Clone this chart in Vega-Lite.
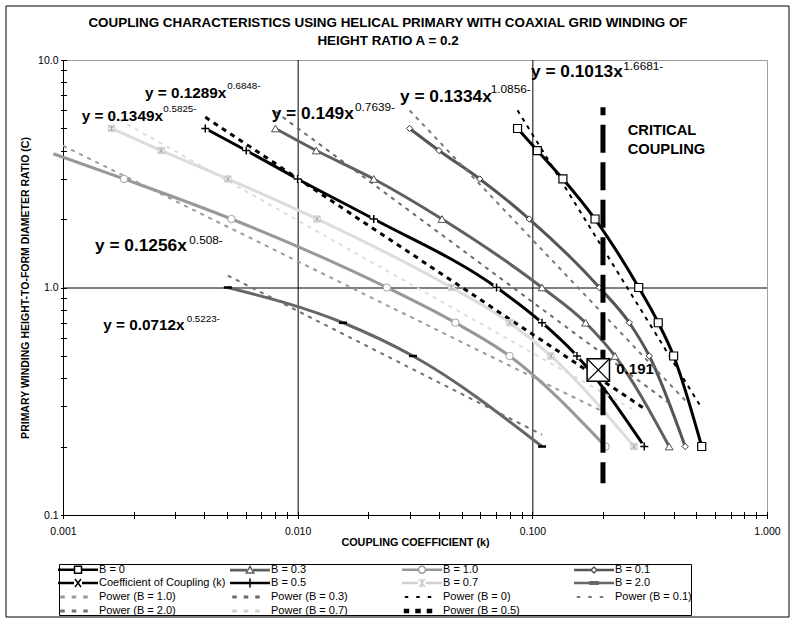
{
  "$schema": "https://vega.github.io/schema/vega-lite/v6.json",
  "width": 704,
  "height": 455,
  "autosize": {"type": "none"},
  "padding": {"left": 63, "top": 60, "right": 28, "bottom": 108},
  "background": "white",
  "title": {
    "text": ["COUPLING CHARACTERISTICS USING HELICAL PRIMARY WITH COAXIAL GRID WINDING OF", "HEIGHT RATIO A = 0.2"],
    "font": "Liberation Sans",
    "fontSize": 13.4,
    "fontWeight": "bold",
    "color": "black",
    "anchor": "middle",
    "frame": "group",
    "dx": -27,
    "offset": -41,
    "lineHeight": 17.5
  },
  "datasets": {
    "curves": [
      {"s": "B = 0", "k": 0.0865, "c": 5}, {"s": "B = 0", "k": 0.105, "c": 4}, {"s": "B = 0", "k": 0.135, "c": 3}, {"s": "B = 0", "k": 0.185, "c": 2},
      {"s": "B = 0", "k": 0.284, "c": 1}, {"s": "B = 0", "k": 0.344, "c": 0.7}, {"s": "B = 0", "k": 0.4, "c": 0.5}, {"s": "B = 0", "k": 0.527, "c": 0.2},
      {"s": "B = 0.1", "k": 0.03, "c": 5}, {"s": "B = 0.1", "k": 0.04, "c": 4}, {"s": "B = 0.1", "k": 0.0597, "c": 3}, {"s": "B = 0.1", "k": 0.097, "c": 2},
      {"s": "B = 0.1", "k": 0.193, "c": 1}, {"s": "B = 0.1", "k": 0.259, "c": 0.7}, {"s": "B = 0.1", "k": 0.315, "c": 0.5}, {"s": "B = 0.1", "k": 0.448, "c": 0.2},
      {"s": "B = 0.3", "k": 0.00804, "c": 5}, {"s": "B = 0.3", "k": 0.012, "c": 4}, {"s": "B = 0.3", "k": 0.0211, "c": 3}, {"s": "B = 0.3", "k": 0.0412, "c": 2},
      {"s": "B = 0.3", "k": 0.11, "c": 1}, {"s": "B = 0.3", "k": 0.1686, "c": 0.7}, {"s": "B = 0.3", "k": 0.225, "c": 0.5}, {"s": "B = 0.3", "k": 0.383, "c": 0.2},
      {"s": "B = 0.5", "k": 0.00404, "c": 5}, {"s": "B = 0.5", "k": 0.00604, "c": 4}, {"s": "B = 0.5", "k": 0.01, "c": 3}, {"s": "B = 0.5", "k": 0.0211, "c": 2},
      {"s": "B = 0.5", "k": 0.0704, "c": 1}, {"s": "B = 0.5", "k": 0.11, "c": 0.7}, {"s": "B = 0.5", "k": 0.155, "c": 0.5}, {"s": "B = 0.5", "k": 0.3, "c": 0.2},
      {"s": "B = 0.7", "k": 0.00161, "c": 5}, {"s": "B = 0.7", "k": 0.00262, "c": 4}, {"s": "B = 0.7", "k": 0.00504, "c": 3}, {"s": "B = 0.7", "k": 0.0121, "c": 2},
      {"s": "B = 0.7", "k": 0.0452, "c": 1}, {"s": "B = 0.7", "k": 0.0802, "c": 0.7}, {"s": "B = 0.7", "k": 0.12, "c": 0.5}, {"s": "B = 0.7", "k": 0.271, "c": 0.2},
      {"s": "B = 1.0", "k": 0.00091, "c": 3.87}, {"s": "B = 1.0", "k": 0.00182, "c": 3}, {"s": "B = 1.0", "k": 0.00522, "c": 2}, {"s": "B = 1.0", "k": 0.024, "c": 1},
      {"s": "B = 1.0", "k": 0.047, "c": 0.7}, {"s": "B = 1.0", "k": 0.08, "c": 0.5}, {"s": "B = 1.0", "k": 0.205, "c": 0.2},
      {"s": "B = 2.0", "k": 0.00504, "c": 1}, {"s": "B = 2.0", "k": 0.0156, "c": 0.7}, {"s": "B = 2.0", "k": 0.031, "c": 0.5}, {"s": "B = 2.0", "k": 0.11, "c": 0.2}
    ],
    "trends": [
      {"s": "Power (B = 0)", "k": 0.0865, "c": 6.01}, {"s": "Power (B = 0)", "k": 0.527, "c": 0.295},
      {"s": "Power (B = 0.1)", "k": 0.03, "c": 6.0}, {"s": "Power (B = 0.1)", "k": 0.448, "c": 0.319},
      {"s": "Power (B = 0.3)", "k": 0.00804, "c": 5.93}, {"s": "Power (B = 0.3)", "k": 0.383, "c": 0.31},
      {"s": "Power (B = 0.5)", "k": 0.00404, "c": 5.61}, {"s": "Power (B = 0.5)", "k": 0.3, "c": 0.294},
      {"s": "Power (B = 0.7)", "k": 0.00161, "c": 5.71}, {"s": "Power (B = 0.7)", "k": 0.271, "c": 0.289},
      {"s": "Power (B = 1.0)", "k": 0.001, "c": 4.2}, {"s": "Power (B = 1.0)", "k": 0.205, "c": 0.281},
      {"s": "Power (B = 2.0)", "k": 0.00504, "c": 1.128}, {"s": "Power (B = 2.0)", "k": 0.11, "c": 0.2255}
    ],
    "vlines": [{"k": 0.001}, {"k": 0.01}, {"k": 0.1}],
    "hlines": [{"c": 0.1}, {"c": 1}],
    "critical": [{"k": 0.2, "top": 6.2, "bottom": 0.138}],
    "coupling": [{"k": 0.191, "c": 0.434, "label": "0.191"}],
    "equations": [
      {"s": "B = 0.5", "t": "y = 0.1289x", "e": "0.6848-", "k": 0.002235, "c": 7.18, "ke": 0.005013, "ce": 7.69},
      {"s": "B = 0.7", "t": "y = 0.1349x", "e": "0.5825-", "k": 0.001201, "c": 5.67, "ke": 0.002676, "ce": 6.09},
      {"s": "B = 0.3", "t": "y = 0.149x", "e": "0.7639-", "k": 0.007748, "c": 5.77, "ke": 0.01755, "ce": 6.2},
      {"s": "B = 0.1", "t": "y = 0.1334x", "e": "1.0856-", "k": 0.0273, "c": 6.9, "ke": 0.06646, "ce": 7.43},
      {"s": "B = 0", "t": "y = 0.1013x", "e": "1.6681-", "k": 0.0987, "c": 8.885, "ke": 0.2441, "ce": 9.44},
      {"s": "B = 1.0", "t": "y = 0.1256x", "e": "0.508-", "k": 0.001369, "c": 1.522, "ke": 0.003453, "ce": 1.618},
      {"s": "B = 2.0", "t": "y = 0.0712x", "e": "0.5223-", "k": 0.001485, "c": 0.6842, "ke": 0.003366, "ce": 0.725}
    ],
    "notes": [
      {"t": "CRITICAL", "k": 0.2549, "c": 4.889},
      {"t": "COUPLING", "k": 0.2549, "c": 4.021}
    ],
    "legend": [
      {"entry": "B = 0"}, {"entry": "B = 0.3"}, {"entry": "B = 1.0"}, {"entry": "B = 0.1"},
      {"entry": "Coefficient of Coupling (k)"}, {"entry": "B = 0.5"}, {"entry": "B = 0.7"}, {"entry": "B = 2.0"},
      {"entry": "Power (B = 1.0)"}, {"entry": "Power (B = 0.3)"}, {"entry": "Power (B = 0)"}, {"entry": "Power (B = 0.1)"},
      {"entry": "Power (B = 2.0)"}, {"entry": "Power (B = 0.7)"}, {"entry": "Power (B = 0.5)"}
    ],
    "frame": [{"f": 0}, {"f": 1}]
  },
  "layer": [
    {
      "data": {"name": "vlines"},
      "mark": {"type": "rule", "color": "black", "strokeWidth": 1, "xOffset": 0.5},
      "encoding": {"x": {"field": "k", "type": "quantitative"}}
    },
    {
      "data": {"name": "hlines"},
      "mark": {"type": "rule", "color": "black", "strokeWidth": 1, "yOffset": 0.5},
      "encoding": {"y": {"field": "c", "type": "quantitative"}}
    },
    {
      "data": {"name": "curves"},
      "mark": {"type": "line", "interpolate": "monotone", "strokeWidth": 3, "strokeJoin": "round"},
      "encoding": {
        "x": {
          "field": "k", "type": "quantitative",
          "scale": {"type": "log", "domain": [0.001, 1], "nice": false},
          "axis": {
            "title": "COUPLING COEFFICIENT (k)",
            "titleFontSize": 10.8,
            "titlePadding": 0,
            "values": [0.001,0.002,0.003,0.004,0.005,0.006,0.007,0.008,0.009,0.01,0.02,0.03,0.04,0.05,0.06,0.07,0.08,0.09,0.1,0.2,0.3,0.4,0.5,0.6,0.7,0.8,0.9,1],
            "labelExpr": "indexof([0.001, 0.01, 0.1, 1], datum.value) >= 0 ? format(datum.value, '.3f') : ''",
            "labelFlush": false,
            "labelOverlap": false,
            "labelPadding": 7.5,
            "domain": false,
            "grid": false,
            "tickSize": 7,
            "offset": -3.5
          }
        },
        "y": {
          "field": "c", "type": "quantitative",
          "scale": {"type": "log", "domain": [0.1, 10], "nice": false},
          "axis": {
            "title": "PRIMARY WINDING HEIGHT-TO-FORM DIAMETER RATIO (C)",
            "titleFontSize": 10.5,
            "titlePadding": 7,
            "values": [0.1,0.2,0.3,0.4,0.5,0.6,0.7,0.8,0.9,1,2,3,4,5,6,7,8,9,10],
            "labelExpr": "indexof([0.1, 1, 10], datum.value) >= 0 ? format(datum.value, '.1f') : ''",
            "labelOverlap": false,
            "labelPadding": 2.5,
            "domain": false,
            "grid": false,
            "tickSize": 6,
            "offset": -3.5
          }
        },
        "color": {
          "field": "s", "type": "nominal",
          "scale": {
            "domain": ["B = 0", "B = 0.1", "B = 0.3", "B = 0.5", "B = 0.7", "B = 1.0", "B = 2.0"],
            "range": ["#000000", "#555555", "#606060", "#000000", "#dcdcdc", "#989898", "#666666"]
          },
          "legend": null
        }
      }
    },
    {
      "data": {"name": "trends"},
      "transform": [{"filter": "datum.s != 'Power (B = 0.5)'"}],
      "mark": {"type": "line", "strokeWidth": 2, "strokeDash": [4, 5]},
      "encoding": {
        "x": {"field": "k", "type": "quantitative"},
        "y": {"field": "c", "type": "quantitative"},
        "color": {
          "field": "s", "type": "nominal",
          "scale": {
            "domain": ["Power (B = 0)", "Power (B = 0.1)", "Power (B = 0.3)", "Power (B = 0.7)", "Power (B = 1.0)", "Power (B = 2.0)"],
            "range": ["#000000", "#7a7a7a", "#6a6a6a", "#dddddd", "#9a9a9a", "#707070"]
          },
          "legend": null
        }
      }
    },
    {
      "data": {"name": "trends"},
      "transform": [{"filter": "datum.s == 'Power (B = 0.5)'"}],
      "mark": {"type": "line", "strokeWidth": 3, "strokeDash": [5, 5], "color": "black"},
      "encoding": {
        "x": {"field": "k", "type": "quantitative"},
        "y": {"field": "c", "type": "quantitative"}
      }
    },
    {
      "data": {"name": "curves"},
      "transform": [{"filter": "datum.s == 'B = 0'"}],
      "mark": {"type": "point", "shape": "square", "size": 64, "filled": true, "fill": "white", "stroke": "black", "strokeWidth": 1.2, "opacity": 1},
      "encoding": {"x": {"field": "k", "type": "quantitative"}, "y": {"field": "c", "type": "quantitative"}}
    },
    {
      "data": {"name": "curves"},
      "transform": [{"filter": "datum.s == 'B = 0.1'"}],
      "mark": {"type": "point", "shape": "diamond", "size": 40, "filled": true, "fill": "white", "stroke": "#333333", "strokeWidth": 1, "opacity": 1},
      "encoding": {"x": {"field": "k", "type": "quantitative"}, "y": {"field": "c", "type": "quantitative"}}
    },
    {
      "data": {"name": "curves"},
      "transform": [{"filter": "datum.s == 'B = 0.3'"}],
      "mark": {"type": "point", "shape": "triangle-up", "size": 60, "filled": true, "fill": "white", "stroke": "#505050", "strokeWidth": 1, "opacity": 1},
      "encoding": {"x": {"field": "k", "type": "quantitative"}, "y": {"field": "c", "type": "quantitative"}}
    },
    {
      "data": {"name": "curves"},
      "transform": [{"filter": "datum.s == 'B = 0.5'"}],
      "mark": {"type": "point", "shape": "square", "size": 42, "filled": true, "fill": "white", "strokeWidth": 0, "opacity": 1},
      "encoding": {"x": {"field": "k", "type": "quantitative"}, "y": {"field": "c", "type": "quantitative"}}
    },
    {
      "data": {"name": "curves"},
      "transform": [{"filter": "datum.s == 'B = 0.5'"}],
      "mark": {"type": "point", "shape": "M-1,0H1M0,-1V1", "size": 64, "filled": false, "stroke": "black", "strokeWidth": 1.5, "opacity": 1},
      "encoding": {"x": {"field": "k", "type": "quantitative"}, "y": {"field": "c", "type": "quantitative"}}
    },
    {
      "data": {"name": "curves"},
      "transform": [{"filter": "datum.s == 'B = 0.7'"}],
      "mark": {"type": "point", "shape": "square", "size": 40, "filled": true, "fill": "#eeeeee", "stroke": "#d0d0d0", "strokeWidth": 1, "opacity": 1},
      "encoding": {"x": {"field": "k", "type": "quantitative"}, "y": {"field": "c", "type": "quantitative"}}
    },
    {
      "data": {"name": "curves"},
      "transform": [{"filter": "datum.s == 'B = 0.7'"}],
      "mark": {"type": "point", "shape": "M-1,-1L1,1M-1,1L1,-1M0,-1V1", "size": 30, "filled": false, "stroke": "#aaaaaa", "strokeWidth": 1, "opacity": 1},
      "encoding": {"x": {"field": "k", "type": "quantitative"}, "y": {"field": "c", "type": "quantitative"}}
    },
    {
      "data": {"name": "curves"},
      "transform": [{"filter": "datum.s == 'B = 1.0' && datum.k >= 0.001"}],
      "mark": {"type": "point", "shape": "circle", "size": 55, "filled": true, "fill": "white", "stroke": "#a0a0a0", "strokeWidth": 1, "opacity": 1},
      "encoding": {"x": {"field": "k", "type": "quantitative"}, "y": {"field": "c", "type": "quantitative"}}
    },
    {
      "data": {"name": "curves"},
      "transform": [{"filter": "datum.s == 'B = 2.0'"}],
      "mark": {"type": "point", "shape": "M-1,0H1", "size": 64, "filled": false, "stroke": "black", "strokeWidth": 2.5, "opacity": 1},
      "encoding": {"x": {"field": "k", "type": "quantitative"}, "y": {"field": "c", "type": "quantitative"}}
    },
    {
      "data": {"name": "critical"},
      "mark": {"type": "rule", "strokeWidth": 5, "strokeDash": [28, 9.5], "strokeDashOffset": 20, "color": "black", "strokeCap": "butt"},
      "encoding": {
        "x": {"field": "k", "type": "quantitative"},
        "y": {"field": "top", "type": "quantitative"},
        "y2": {"field": "bottom"}
      }
    },
    {
      "data": {"name": "coupling"},
      "mark": {"type": "point", "shape": "square", "size": 500, "filled": true, "fill": "white", "stroke": "black", "strokeWidth": 1.5, "opacity": 1},
      "encoding": {"x": {"field": "k", "type": "quantitative"}, "y": {"field": "c", "type": "quantitative"}}
    },
    {
      "data": {"name": "coupling"},
      "mark": {"type": "point", "shape": "M-1,-1L1,1M-1,1L1,-1", "size": 500, "filled": false, "stroke": "black", "strokeWidth": 1.2, "opacity": 1},
      "encoding": {"x": {"field": "k", "type": "quantitative"}, "y": {"field": "c", "type": "quantitative"}}
    },
    {
      "data": {"name": "coupling"},
      "mark": {"type": "text", "align": "left", "baseline": "middle", "dx": 18, "dy": -1, "fontSize": 15, "fontWeight": "bold", "color": "black"},
      "encoding": {"x": {"field": "k", "type": "quantitative"}, "y": {"field": "c", "type": "quantitative"}, "text": {"field": "label"}}
    },
    {
      "data": {"name": "notes"},
      "mark": {"type": "text", "align": "left", "baseline": "middle", "fontSize": 14.7, "fontWeight": "bold", "color": "black"},
      "encoding": {"x": {"field": "k", "type": "quantitative"}, "y": {"field": "c", "type": "quantitative"}, "text": {"field": "t"}}
    },
    {
      "data": {"name": "equations"},
      "transform": [{"filter": "indexof(['B = 0.3', 'B = 0.1', 'B = 0', 'B = 1.0'], datum.s) >= 0"}],
      "mark": {"type": "text", "align": "left", "baseline": "middle", "fontSize": 17.3, "fontWeight": "bold", "color": "black"},
      "encoding": {"x": {"field": "k", "type": "quantitative"}, "y": {"field": "c", "type": "quantitative"}, "text": {"field": "t"}}
    },
    {
      "data": {"name": "equations"},
      "transform": [{"filter": "indexof(['B = 0.5', 'B = 0.7', 'B = 2.0'], datum.s) >= 0"}],
      "mark": {"type": "text", "align": "left", "baseline": "middle", "fontSize": 15.3, "fontWeight": "bold", "color": "black"},
      "encoding": {"x": {"field": "k", "type": "quantitative"}, "y": {"field": "c", "type": "quantitative"}, "text": {"field": "t"}}
    },
    {
      "data": {"name": "equations"},
      "transform": [{"filter": "indexof(['B = 0.3', 'B = 0.1', 'B = 0', 'B = 1.0'], datum.s) >= 0"}],
      "mark": {"type": "text", "align": "left", "baseline": "middle", "fontSize": 11.8, "color": "black"},
      "encoding": {"x": {"field": "ke", "type": "quantitative"}, "y": {"field": "ce", "type": "quantitative"}, "text": {"field": "e"}}
    },
    {
      "data": {"name": "equations"},
      "transform": [{"filter": "indexof(['B = 0.5', 'B = 0.7', 'B = 2.0'], datum.s) >= 0"}],
      "mark": {"type": "text", "align": "left", "baseline": "middle", "fontSize": 9.8, "color": "black"},
      "encoding": {"x": {"field": "ke", "type": "quantitative"}, "y": {"field": "ce", "type": "quantitative"}, "text": {"field": "e"}}
    },
    {
      "data": {"name": "legend"},
      "mark": {"type": "point", "filled": true, "strokeWidth": 1.5},
      "encoding": {
        "opacity": {"value": 0},
        "shape": {
          "field": "entry", "type": "nominal",
          "scale": {
            "domain": ["B = 0", "B = 0.3", "B = 1.0", "B = 0.1", "Coefficient of Coupling (k)", "B = 0.5", "B = 0.7", "B = 2.0", "Power (B = 1.0)", "Power (B = 0.3)", "Power (B = 0)", "Power (B = 0.1)", "Power (B = 2.0)", "Power (B = 0.7)", "Power (B = 0.5)"],
            "range": [
              "M-4,-0.12H-0.7M-4,0.12H-0.7M0.7,-0.12H4M0.7,0.12H4M-0.7,-0.7H0.7V0.7H-0.7Z",
              "M-4,-0.12H-0.6M-4,0.12H-0.6M0.6,-0.12H4M0.6,0.12H4M0,-0.75L0.75,0.55H-0.75Z",
              "M-4,-0.12H-0.7M-4,0.12H-0.7M0.7,-0.12H4M0.7,0.12H4M-0.7,0A0.7,0.7,0,1,0,0.7,0A0.7,0.7,0,1,0,-0.7,0Z",
              "M-4,-0.12H-0.6M-4,0.12H-0.6M0.6,-0.12H4M0.6,0.12H4M0,-0.6L0.6,0L0,0.6L-0.6,0Z",
              "M-4,-0.12H-0.8M-4,0.12H-0.8M0.8,-0.12H4M0.8,0.12H4M-0.6,-0.8L0.6,0.8M-0.6,0.8L0.6,-0.8",
              "M-4,-0.12H4M-4,0.12H4M0,-0.9V0.9",
              "M-4,-0.12H-0.8M-4,0.12H-0.8M0.8,-0.12H4M0.8,0.12H4M-0.6,-0.8L0.6,0.8M-0.6,0.8L0.6,-0.8M0,-0.9V0.9",
              "M-4,-0.12H4M-4,0.12H4M-0.8,-0.25H0.8V0.25H-0.8Z",
              "M-3.4,-0.15H-2.8V0.15H-3.4ZM-1.1,-0.15H-0.5V0.15H-1.1ZM1.2,-0.15H1.8V0.15H1.2Z",
              "M-3.4,-0.15H-2.8V0.15H-3.4ZM-1.1,-0.15H-0.5V0.15H-1.1ZM1.2,-0.15H1.8V0.15H1.2Z",
              "M-3.3,-0.05H-2.9V0.05H-3.3ZM-1,-0.05H-0.6V0.05H-1ZM1.3,-0.05H1.7V0.05H1.3Z",
              "M-3.3,-0.05H-2.9V0.05H-3.3ZM-1,-0.05H-0.6V0.05H-1ZM1.3,-0.05H1.7V0.05H1.3Z",
              "M-3.4,-0.15H-2.8V0.15H-3.4ZM-1.1,-0.15H-0.5V0.15H-1.1ZM1.2,-0.15H1.8V0.15H1.2Z",
              "M-3.4,-0.15H-2.8V0.15H-3.4ZM-1.1,-0.15H-0.5V0.15H-1.1ZM1.2,-0.15H1.8V0.15H1.2Z",
              "M-3.5,-0.3H-2.7V0.3H-3.5ZM-1.2,-0.3H-0.4V0.3H-1.2ZM1.1,-0.3H1.9V0.3H1.1Z"
            ]
          },
          "legend": {
            "title": null, "orient": "none", "legendX": -4, "legendY": 504, "direction": "horizontal",
            "columns": 4, "gridAlign": "all", "columnPadding": 1, "rowPadding": -3.2,
            "symbolSize": 100, "symbolOffset": 14, "labelOffset": 15, "symbolStrokeWidth": 1.5, "symbolOpacity": 1,
            "labelFont": "Liberation Sans", "labelFontSize": 11, "labelColor": "black", "labelLimit": 300,
            "padding": -1, "strokeColor": "black", "fillColor": "white", "cornerRadius": 0
          }
        },
        "fill": {
          "field": "entry", "type": "nominal",
          "scale": {
            "domain": ["B = 0", "B = 0.3", "B = 1.0", "B = 0.1", "Coefficient of Coupling (k)", "B = 0.5", "B = 0.7", "B = 2.0", "Power (B = 1.0)", "Power (B = 0.3)", "Power (B = 0)", "Power (B = 0.1)", "Power (B = 2.0)", "Power (B = 0.7)", "Power (B = 0.5)"],
            "range": ["white", "white", "white", "white", "white", "white", "white", "black", "#9a9a9a", "#6a6a6a", "#000000", "#7a7a7a", "#707070", "#d0d0d0", "#000000"]
          },
          "legend": {
            "title": null, "orient": "none", "legendX": -4, "legendY": 504, "direction": "horizontal",
            "columns": 4, "gridAlign": "all", "columnPadding": 1, "rowPadding": -3.2,
            "symbolSize": 100, "symbolOffset": 14, "labelOffset": 15, "symbolStrokeWidth": 1.5, "symbolOpacity": 1,
            "labelFont": "Liberation Sans", "labelFontSize": 11, "labelColor": "black", "labelLimit": 300,
            "padding": -1, "strokeColor": "black", "fillColor": "white", "cornerRadius": 0
          }
        },
        "stroke": {
          "field": "entry", "type": "nominal",
          "scale": {
            "domain": ["B = 0", "B = 0.3", "B = 1.0", "B = 0.1", "Coefficient of Coupling (k)", "B = 0.5", "B = 0.7", "B = 2.0", "Power (B = 1.0)", "Power (B = 0.3)", "Power (B = 0)", "Power (B = 0.1)", "Power (B = 2.0)", "Power (B = 0.7)", "Power (B = 0.5)"],
            "range": ["#000000", "#606060", "#989898", "#555555", "#000000", "#000000", "#d0d0d0", "#666666", "#9a9a9a", "#6a6a6a", "#000000", "#7a7a7a", "#707070", "#d0d0d0", "#000000"]
          },
          "legend": {
            "title": null, "orient": "none", "legendX": -4, "legendY": 504, "direction": "horizontal",
            "columns": 4, "gridAlign": "all", "columnPadding": 1, "rowPadding": -3.2,
            "symbolSize": 100, "symbolOffset": 14, "labelOffset": 15, "symbolStrokeWidth": 1.5, "symbolOpacity": 1,
            "labelFont": "Liberation Sans", "labelFontSize": 11, "labelColor": "black", "labelLimit": 300,
            "padding": -1, "strokeColor": "black", "fillColor": "white", "cornerRadius": 0
          }
        }
      }
    },
    {
      "data": {"name": "frame"},
      "mark": {"type": "text"},
      "encoding": {
        "text": {"value": ""},
        "color": {
          "field": "f", "type": "quantitative",
          "scale": {"domain": [0, 1], "range": ["rgba(0,0,0,0)", "rgba(0,0,0,0)"]},
          "legend": {
            "title": null, "orient": "none", "legendX": -57, "legendY": -54, "direction": "horizontal",
            "gradientLength": 783, "gradientThickness": 611, "gradientStrokeColor": "black", "gradientStrokeWidth": 1,
            "labelOpacity": 0, "labelFontSize": 1, "padding": 0
          }
        }
      }
    }
  ],
  "resolve": {"scale": {"color": "independent"}},
  "config": {
    "font": "Liberation Sans",
    "view": {"fill": "#c8c8c8", "stroke": "#a0a0a0", "strokeWidth": 1},
    "axis": {
      "tickColor": "black", "labelColor": "black", "titleColor": "black",
      "labelFont": "Liberation Sans", "titleFont": "Liberation Sans", "labelFontSize": 10.5,
      "titleFontWeight": "bold", "tickWidth": 1
    }
  }
}
